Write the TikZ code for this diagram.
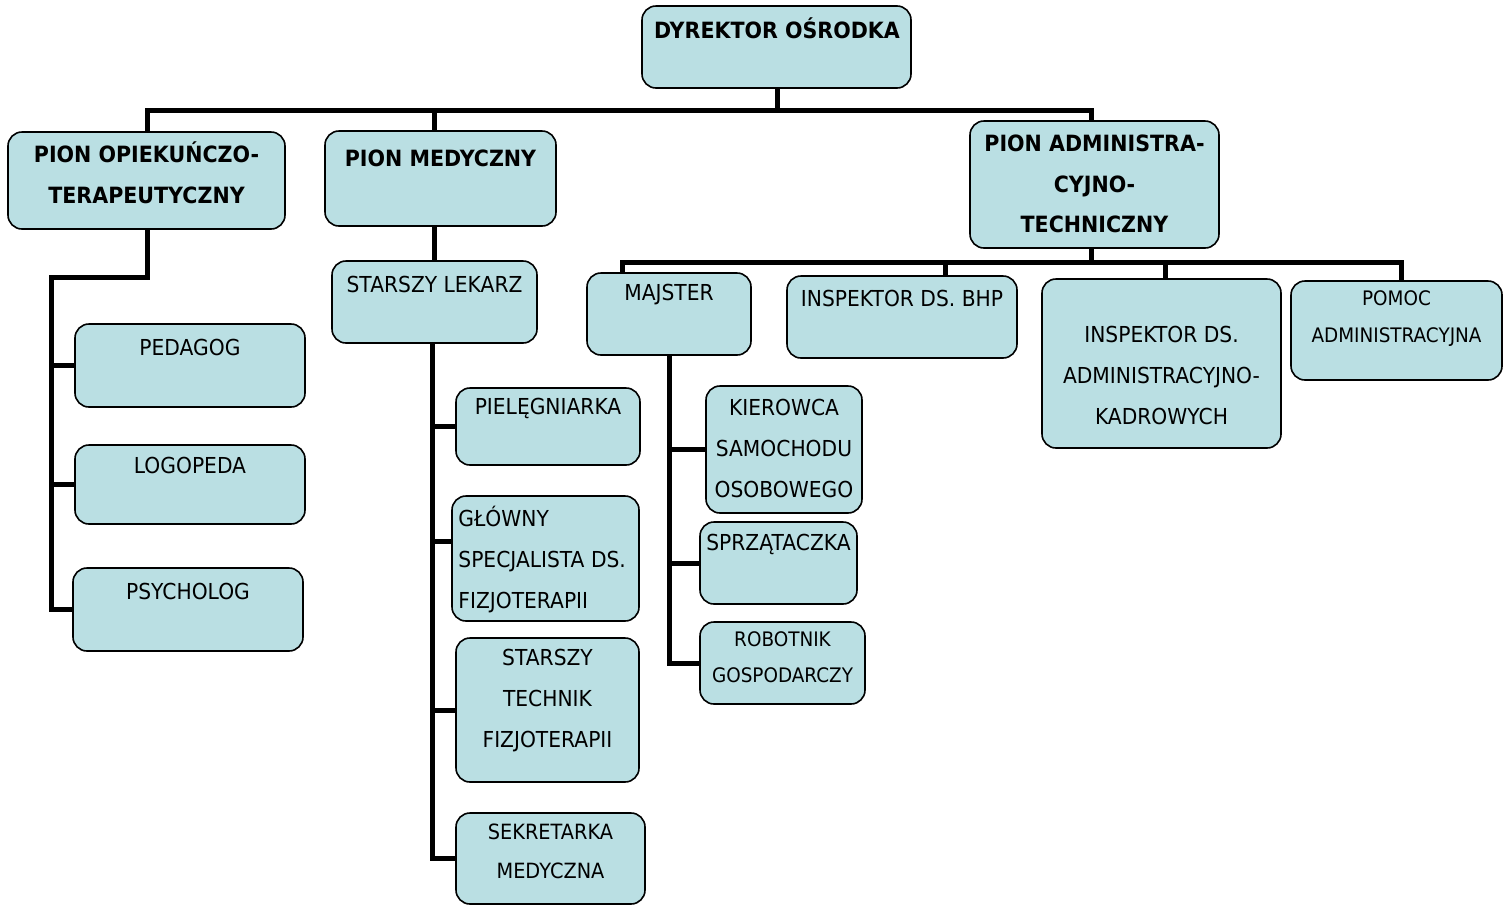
\documentclass[tikz,border=0pt]{standalone}
\usepackage{fontspec}
\setmainfont{DejaVu Sans}[FakeStretch=0.92]
\usetikzlibrary{fit,backgrounds}
\definecolor{boxfill}{RGB}{186,223,227}
\tikzset{
  box/.style={draw=black, line width=0.8pt, fill=boxfill, rounded corners=7pt, inner sep=0pt},
  txt/.style={align=center, inner sep=0pt, font=\fontsize{11}{20.5}\selectfont},
  btxt/.style={align=center, inner sep=0pt, font=\fontsize{11.2}{20.3}\selectfont\bfseries},
  stxt/.style={align=center, inner sep=0pt, font=\fontsize{10}{18.2}\selectfont},
  conn/.style={draw=black, line width=2.5pt, line join=miter},
}
\begin{document}
\begin{tikzpicture}[x=0.5pt,y=-0.5pt]
\useasboundingbox (0,0) rectangle (1503,906);
% junction coordinates
\coordinate (dp) at (777,110);
\coordinate (d1) at (147,110);
\coordinate (d2) at (434,110);
\coordinate (d3) at (1091,110);
\coordinate (a0) at (1091,262);
\coordinate (a1) at (622,262);
\coordinate (a2) at (945,262);
\coordinate (a3) at (1165,262);
\coordinate (a4) at (1401,262);
\coordinate (o1) at (147,277);
\coordinate (o2) at (51,277);
\coordinate (sv) at (432,343);
\coordinate (mv) at (669,355);
\coordinate (gj) at (452,541);
% boxes
\node[box, fit={(642,6)(911,88)}] (dir) {};
\node[box, fit={(8,132)(285,229)}] (pop) {};
\node[box, fit={(325,131)(556,226)}] (pmed) {};
\node[box, fit={(970,121)(1219,248)}] (padm) {};
\node[box, fit={(332,261)(537,343)}] (sl) {};
\node[box, fit={(75,324)(305,407)}] (ped) {};
\node[box, fit={(75,445)(305,524)}] (logo) {};
\node[box, fit={(73,568)(303,651)}] (psy) {};
\node[box, fit={(456,388)(640,465)}] (piel) {};
\node[box, fit={(452,496)(639,621)}] (glo) {};
\node[box, fit={(456,638)(639,782)}] (tech) {};
\node[box, fit={(456,813)(645,904)}] (sek) {};
\node[box, fit={(587,273)(751,355)}] (maj) {};
\node[box, fit={(787,276)(1017,358)}] (bhp) {};
\node[box, fit={(1042,279)(1281,448)}] (iadm) {};
\node[box, fit={(1291,281)(1502,380)}] (pom) {};
\node[box, fit={(706,386)(862,513)}] (kier) {};
\node[box, fit={(700,522)(857,604)}] (spr) {};
\node[box, fit={(700,622)(865,704)}] (rob) {};
% connectors behind the boxes
\begin{pgfonlayer}{background}
\draw[conn] (dir.south -| dp) -- (dp);
\draw[conn] (d1 |- pop.north) -- (d1) -- (d3) -- (d3 |- padm.north);
\draw[conn] (d2) -- (d2 |- pmed.north);
\draw[conn] (pmed.south -| d2) -- (sl.north -| d2);
\draw[conn] (padm.south -| a0) -- (a0);
\draw[conn] (a1 |- maj.north) -- (a1) -- (a4) -- (a4 |- pom.north);
\draw[conn] (a2) -- (a2 |- bhp.north);
\draw[conn] (a3) -- (a3 |- iadm.north);
\draw[conn] (pop.south -| o1) -- (o1) -- (o2) -- (o2 |- psy.west) -- (psy.west);
\draw[conn] (o2 |- ped.west) -- (ped.west);
\draw[conn] (o2 |- logo.west) -- (logo.west);
\draw[conn] (sl.south -| sv) -- (sv |- sek.west) -- (sek.west);
\draw[conn] (sv |- piel.west) -- (piel.west);
\draw[conn] (sv |- gj) -- (gj);
\draw[conn] (sv |- tech.west) -- (tech.west);
\draw[conn] (maj.south -| mv) -- (mv |- rob.west) -- (rob.west);
\draw[conn] (mv |- kier.west) -- (kier.west);
\draw[conn] (mv |- spr.west) -- (spr.west);
\end{pgfonlayer}
% texts
\node[btxt] (dirt) at (777,28) {DYREKTOR OŚRODKA};
\node[btxt] (popt) at (146.5,173) {PION OPIEKUŃCZO-\\TERAPEUTYCZNY};
\node[btxt] (pmedt) at (440.5,158) {PION MEDYCZNY};
\node[btxt] (padmt) at (1094.5,184) {PION ADMINISTRA-\\CYJNO-\\TECHNICZNY};
\node[txt] (slt) at (434.5,284) {STARSZY LEKARZ};
\node[txt] (pedt) at (190,347) {PEDAGOG};
\node[txt] (logot) at (190,465) {LOGOPEDA};
\node[txt] (psyt) at (188,591) {PSYCHOLOG};
\node[txt] (pielt) at (548,408) {PIELĘGNIARKA};
\node[txt, align=left, anchor=west] (glot) at (458,559) {GŁÓWNY\\SPECJALISTA DS.\\FIZJOTERAPII};
\node[txt] (techt) at (547.5,701) {STARSZY\\TECHNIK\\FIZJOTERAPII};
\node[txt, font=\fontsize{10.5}{19.5}\selectfont] (sekt) at (550.5,851.5) {SEKRETARKA\\MEDYCZNA};
\node[txt] (majt) at (669,295) {MAJSTER};
\node[txt] (bhpt) at (902,298) {INSPEKTOR DS. BHP};
\node[txt] (iadmt) at (1161.5,375) {INSPEKTOR DS.\\ADMINISTRACYJNO-\\KADROWYCH};
\node[stxt] (pomt) at (1396.5,318.5) {POMOC\\ADMINISTRACYJNA};
\node[txt] (kiert) at (784,448) {KIEROWCA\\SAMOCHODU\\OSOBOWEGO};
\node[txt] (sprt) at (778.5,544) {SPRZĄTACZKA};
\node[stxt] (robt) at (782.5,657) {ROBOTNIK\\GOSPODARCZY};
\end{tikzpicture}
\end{document}
